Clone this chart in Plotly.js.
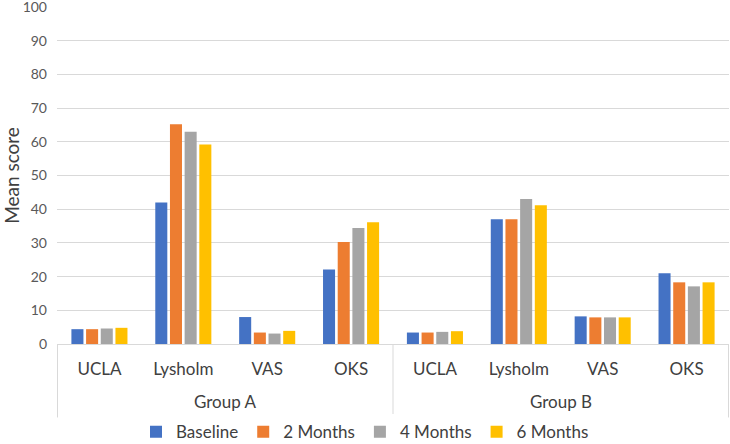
<!DOCTYPE html>
<html>
<head>
<meta charset="utf-8">
<script src="https://cdn.plot.ly/plotly-3.0.1.min.js"></script>
<style>
  html, body { margin: 0; padding: 0; background: #fff; }
  #chart { width: 730px; height: 444px; }
</style>
</head>
<body>
<div id="chart"></div>
<script>
const groups = ['Group A', 'Group A', 'Group A', 'Group A', 'Group B', 'Group B', 'Group B', 'Group B'];
const measures = ['UCLA', 'Lysholm', 'VAS', 'OKS', 'UCLA', 'Lysholm', 'VAS', 'OKS'];

const seriesNames = ['Baseline', '2 Months', '4 Months', '6 Months'];
const seriesColors = ['#4472C4', '#ED7D31', '#A5A5A5', '#FFC000'];

const baseline = [4.4, 42.0, 8.0, 22.1, 3.4, 37.0, 8.2, 21.0];
const months2 = [4.4, 65.2, 3.4, 30.3, 3.4, 37.0, 7.9, 18.3];
const months4 = [4.6, 63.0, 3.1, 34.4, 3.6, 43.0, 7.9, 17.1];
const months6 = [4.8, 59.2, 3.9, 36.1, 3.8, 41.2, 7.9, 18.3];

const yTicks = [0, 10, 20, 30, 40, 50, 60, 70, 80, 90, 100];

const values = [baseline, months2, months4, months6];

// unique category keys so that repeated measure names stay separate
const keys = measures.map((m, i) => groups[i] + ' · ' + m);

const traces = values.map((v, i) => ({
    type: 'bar',
    name: seriesNames[i],
    x: keys,
    y: v,
    marker: { color: seriesColors[i] },
    hoverinfo: 'y'
}));

// group labels centred under their categories, dividers between groups
const groupNames = [...new Set(groups)];
const annotations = groupNames.map(g => {
    const idx = groups.map((x, i) => x === g ? i : -1).filter(i => i >= 0);
    return {
        text: g,
        x: (idx[0] + idx[idx.length - 1]) / 2,
        xref: 'x',
        y: -0.17,
        yref: 'paper',
        yanchor: 'middle',
        showarrow: false,
        font: { size: 17, color: '#404040' }
    };
});

const bounds = [-0.5];
groups.forEach((g, i) => { if (i > 0 && g !== groups[i - 1]) bounds.push(i - 0.5); });
bounds.push(groups.length - 0.5);
const shapes = bounds.map(b => ({
    type: 'line',
    xref: 'x', yref: 'paper',
    x0: b, x1: b, y0: 0, y1: -0.218,
    line: { color: '#d9d9d9', width: 1 }
}));

const layout = {
    width: 730,
    height: 444,
    margin: { l: 57, r: 1, t: 7, b: 100, autoexpand: false },
    paper_bgcolor: '#fff',
    plot_bgcolor: '#fff',
    font: { family: 'Lato, "Open Sans", sans-serif', color: '#404040' },
    barmode: 'group',
    bargap: 0.3,
    bargroupgap: 0.18,
    xaxis: {
        type: 'category',
        tickvals: keys,
        ticktext: measures,
        showline: true,
        linecolor: '#d9d9d9',
        linewidth: 1,
        ticks: '',
        ticklabelstandoff: 10,
        tickfont: { size: 17, color: '#404040' }
    },
    yaxis: {
        range: [0, 100],
        tickvals: yTicks,
        showgrid: true,
        gridcolor: '#d9d9d9',
        zeroline: false,
        showline: false,
        ticks: '',
        ticklabelstandoff: 9,
        ticklabeloverflow: 'allow',
        tickfont: { size: 14, color: '#595959' },
        title: { text: 'Mean score', font: { size: 19, color: '#404040' }, standoff: 5 }
    },
    legend: {
        orientation: 'h',
        xref: 'container',
        x: 0.5,
        xanchor: 'center',
        y: -0.262,
        yanchor: 'middle',
        font: { size: 17, color: '#404040' },
        itemwidth: 30,
        traceorder: 'normal'
    },
    annotations: annotations,
    shapes: shapes,
    showlegend: true
};

Plotly.newPlot('chart', traces, layout, { displayModeBar: false, staticPlot: true });
</script>
</body>
</html>
